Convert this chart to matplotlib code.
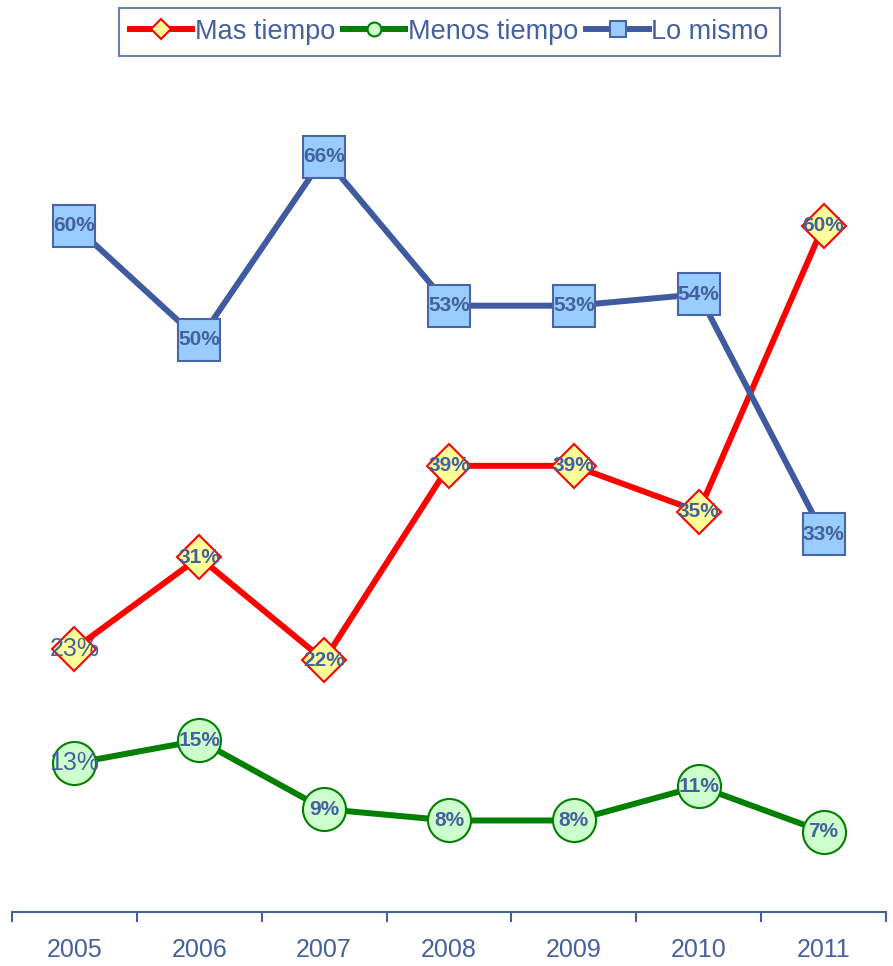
import numpy as np
import matplotlib
matplotlib.use("Agg")
import matplotlib.pyplot as plt
from matplotlib.lines import Line2D

# data
years = ["2005", "2006", "2007", "2008", "2009", "2010", "2011"]
mas_tiempo = [23, 31, 22, 39, 39, 35, 60]
menos_tiempo = [13, 15, 9, 8, 8, 11, 7]
lo_mismo = [60, 50, 66, 53, 53, 54, 33]
series_names = ["Mas tiempo", "Menos tiempo", "Lo mismo"]

plt.rcParams['font.family'] = ['Liberation Sans', 'DejaVu Sans']

TXT = "#44609E"
# plain_first: the 2005 label of that series is drawn plain and bigger
styles = [
    dict(color="#FF0000", marker="D", ms=22, leg_ms=10, mfc="#FFFF99", mec="#FF0000", plain_first=True),
    dict(color="#008000", marker="o", ms=31, leg_ms=10, mfc="#CCFFCC", mec="#008000", plain_first=True),
    dict(color="#3F5A9E", marker="s", ms=30, leg_ms=11, mfc="#99CCFF", mec="#4A64A8", plain_first=False),
]

fig = plt.figure(figsize=(8.93, 9.66), dpi=100)
ax = fig.add_axes([0.0134, 0.0559, 0.9787, 0.829])

x = np.arange(len(years))
for vals, st in zip([mas_tiempo, menos_tiempo, lo_mismo], styles):
    ax.plot(x, vals, color=st["color"], lw=4.3, marker=st["marker"],
            markersize=st["ms"], markerfacecolor=st["mfc"],
            markeredgecolor=st["mec"], markeredgewidth=1.5, zorder=3)
    for i, v in enumerate(vals):
        if i == 0 and st["plain_first"]:
            ax.text(i, v, f"{v}%", ha="center", va="center", color=TXT,
                    fontsize=18, zorder=5)
        else:
            ax.text(i, v, f"{v}%", ha="center", va="center", color=TXT,
                    fontsize=15, fontweight="bold", zorder=5)

ax.set_xlim(-0.5, len(years) - 0.5)
ax.set_ylim(0, 70)
ax.set_yticks([])
for s in ["top", "right", "left"]:
    ax.spines[s].set_visible(False)
ax.spines["bottom"].set_color(TXT)
ax.spines["bottom"].set_linewidth(1.5)

ax.set_xticks(np.arange(-0.5, len(years)), labels=[""] * (len(years) + 1))
ax.set_xticks(x, labels=years, minor=True)
ax.tick_params(axis="x", which="major", direction="out", length=7,
               width=1.5, color=TXT)
ax.tick_params(axis="x", which="minor", length=0, pad=19,
               labelsize=18, labelcolor=TXT)

handles = [Line2D([], [], color=st["color"], lw=4.3, marker=st["marker"],
                  markersize=st["leg_ms"], markerfacecolor=st["mfc"],
                  markeredgecolor=st["mec"], markeredgewidth=1.5)
           for st in styles]
leg = fig.legend(handles, series_names, loc="center", ncol=3,
                 bbox_to_anchor=(0.503, 0.967), fontsize=19.5,
                 handlelength=2.3, handletextpad=0.1, columnspacing=0.3,
                 borderpad=0.4, borderaxespad=0, fancybox=False,
                 frameon=True)
for t in leg.get_texts():
    t.set_color(TXT)
leg.get_frame().set_edgecolor(TXT)
leg.get_frame().set_linewidth(1.5)

fig.savefig("out.png", dpi=100)
